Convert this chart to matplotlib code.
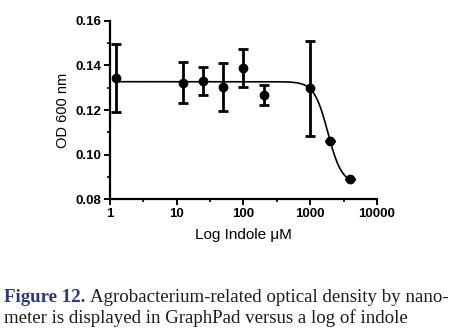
import numpy as np
import matplotlib
matplotlib.use('Agg')
import matplotlib.pyplot as plt
from matplotlib.ticker import FixedLocator, NullFormatter

# Indole concentration (uM) and OD600 readings (mean, error)
indole = [1.25, 12.5, 25, 50, 100, 200, 1000, 2000, 4000]
od_mean = [0.1343, 0.1322, 0.1331, 0.1303, 0.1387, 0.1268, 0.1297, 0.1063, 0.0893]
od_err = [0.0151, 0.0092, 0.0064, 0.0108, 0.0085, 0.0044, 0.0212, 0.0, 0.0]

# 4-parameter logistic fit shown as the curve
fit_top = 0.1327
fit_bottom = 0.087
fit_ec50 = 1845
fit_hill = 4.2

caption_bold = 'Figure 12.'
caption_line1 = 'Agrobacterium-related optical density by nano-'
caption_line2 = 'meter is displayed in GraphPad versus a log of indole'

plt.rcParams['font.family'] = ['Liberation Sans', 'DejaVu Sans']

fig = plt.figure(figsize=(4.58, 3.35), dpi=100)
ax = fig.add_axes([0.240, 0.405, 0.583, 0.533])

xs = np.logspace(np.log10(indole[0]), np.log10(indole[-1]), 400)
ys = fit_bottom + (fit_top - fit_bottom) / (1 + (xs / fit_ec50) ** fit_hill)
ax.plot(xs, ys, color='black', lw=1.2, zorder=2)

ax.errorbar(indole, od_mean, yerr=od_err, fmt='o', color='black', ms=6,
            elinewidth=2.0, capsize=3.5, capthick=2.0, zorder=3)

ax.set_xscale('log')
ax.set_xlim(1, 10000)
ax.set_ylim(0.08, 0.16)

ax.xaxis.set_major_locator(FixedLocator([1, 10, 100, 1000, 10000]))
ax.xaxis.set_minor_locator(FixedLocator([10 ** 0.5, 10 ** 1.5, 10 ** 2.5, 10 ** 3.5]))
ax.xaxis.set_minor_formatter(NullFormatter())
ax.set_xticklabels(['1', '10', '100', '1000', '10000'])
ax.set_yticks([0.08, 0.10, 0.12, 0.14, 0.16])
ax.set_yticks([0.09, 0.11, 0.13, 0.15], minor=True)
ax.set_yticklabels(['0.08', '0.10', '0.12', '0.14', '0.16'])

for s in ['top', 'right']:
    ax.spines[s].set_visible(False)
for s in ['left', 'bottom']:
    ax.spines[s].set_linewidth(1.6)

ax.tick_params(which='major', direction='out', length=4, width=1.4, labelsize=9.5, pad=2)
ax.tick_params(which='minor', direction='out', length=2.5, width=1.2)
for lab in ax.get_xticklabels() + ax.get_yticklabels():
    lab.set_fontweight('bold')

ax.set_ylabel('OD 600 nm', fontsize=10.5, labelpad=4)
ax.set_xlabel('Log Indole \u03bcM', fontsize=11, labelpad=6)

# caption, sized so the first line fills the width like the reference
serif = 'Liberation Serif'
fs = 12
y1 = 1 - 301.7 / 335
y2 = 1 - 323 / 335
r = fig.canvas.get_renderer()
tb = fig.text(0.008, y1, caption_bold + ' ', fontsize=fs, fontweight='bold',
              family=serif, color='#2b3a7c', va='baseline')
t1 = fig.text(0, y1, caption_line1, fontsize=fs, family=serif,
              color='#1c1c1c', va='baseline')
w = tb.get_window_extent(r).width + t1.get_window_extent(r).width
fs = fs * 444 / w
tb.set_fontsize(fs)
t1.set_fontsize(fs)
wb = tb.get_window_extent(r).width
t1.set_x(0.008 + wb / fig.bbox.width)
fig.text(0.008, y2, caption_line2, fontsize=fs, family=serif,
         color='#1c1c1c', va='baseline')

fig.savefig('out.png', dpi=100)
